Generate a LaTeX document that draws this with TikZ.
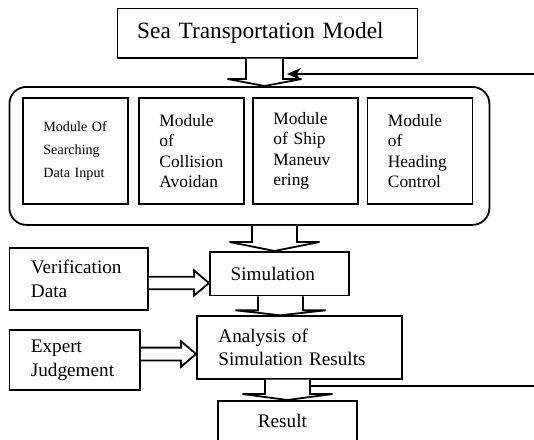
\documentclass[tikz,border=0pt]{standalone}
\usepackage{fontspec}
\setmainfont{Liberation Serif}
\usetikzlibrary{calc,arrows.meta}
\tikzset{
    box/.style={
        rectangle, draw, line width=0.9pt,
        anchor=north west, align=left,
        inner xsep=10.75pt, inner ysep=0pt,
        font=\fontsize{9.6}{11.8}\selectfont
    },
    modbox/.style={
        box, minimum width=52.5pt, minimum height=53pt,
        inner xsep=10.25pt, text width=32pt,
        font=\fontsize{8.7}{10.2}\selectfont
    },
    frame/.style={
        rectangle, draw, line width=0.9pt, rounded corners=8.5pt,
        anchor=north west
    },
    hollow/.style={draw, line width=0.9pt, fill=white, line join=miter},
    fback/.style={-{Stealth[length=7pt,width=6pt]}, line width=0.9pt},
}
% hollow arrow pointing down: [head length] x, half shaft, from, to
\newcommand{\fatdown}[5][7]{%
    \draw[hollow] ({#2-#3},0 |- #4.south)
        -- ($({#2-#3},0 |- #5.north)+(0,-#1)$) -- ++({-#3},0)
        -- (#2,0 |- #5.north)
        -- ($({#2+2*#3},0 |- #5.north)+(0,-#1)$) -- ++({-#3},0)
        -- ({#2+#3},0 |- #4.south);
}
% hollow arrow pointing right: y, half shaft, from, to
\newcommand{\fatright}[4]{%
    \draw[hollow] (#3.east |- 0,{#1-#2})
        -- ($(#4.west |- 0,{#1-#2})+(-15,0)$) -- ++(0,{-#2})
        -- (#4.west |- 0,#1)
        -- ($(#4.west |- 0,{#1+2*#2})+(-15,0)$) -- ++(0,{-#2})
        -- (#3.east |- 0,{#1+#2});
}

\begin{document}
\begin{tikzpicture}[x=0.5pt, y=-0.5pt]

    \useasboundingbox (0,0) rectangle (534,439);
    \clip (0,0) rectangle (534,439);

    % Model
    \node[box, minimum width=150pt, minimum height=24.7pt,
          inner xsep=9.9pt, text width=130.2pt,
          font=\fontsize{11.65}{13.5}\selectfont] (sea) at (116.5,7.5)
        {Sea Transportation Model};

    % Modules
    \node[frame, minimum width=240pt, minimum height=69pt] (mods) at (8.5,86) {};

    \node[modbox, font=\fontsize{7.05}{11.5}\selectfont] (search) at (22,97)
        {Module Of\\Searching\\Data Input};
    \node[modbox] (collision) at (138,97)
        {Module\\of\\Collision\\Avoidan};
    \node[modbox] (maneuver) at (252,97)
        {Module\\of Ship\\Maneuv\\ering};
    \node[modbox] (heading) at (366.5,97)
        {Module\\of\\Heading\\Control};

    % Simulation part
    \node[box, minimum width=69.3pt, minimum height=31pt,
          text width=47.8pt] (verif) at (8.5,247)
        {Verification\\Data};
    \node[box, minimum width=69.5pt, minimum height=21.8pt,
          inner xsep=10.4pt, text width=48.7pt] (sim) at (209,251)
        {Simulation};
    \node[box, minimum width=65.25pt, minimum height=30pt,
          text width=43.75pt] (expert) at (8.5,329.3)
        {Expert\\Judgement};
    \node[box, minimum width=102.7pt, minimum height=31.2pt,
          text width=81.2pt] (analysis) at (196,315.3)
        {Analysis of\\Simulation Results};
    \node[box, minimum width=69.3pt, minimum height=20pt,
          inner xsep=19.8pt, text width=29.7pt] (result) at (217.4,400)
        {Result};

    % Hollow arrows
    \fatdown[7]{264.5}{18.5}{sea}{mods}
    \fatdown[9]{274.5}{22.5}{mods}{sim}
    \fatdown[5]{280.5}{22.5}{sim}{analysis}
    \fatdown[6]{287.5}{22.5}{analysis}{result}
    \fatright{283}{6.3}{verif}{sim}
    \fatright{354}{6.4}{expert}{analysis}

    % Feedback loop
    \coordinate (fbout) at (310,386);
    \coordinate (fbin) at (287,74);
    \coordinate (fbcorner) at (560,0);
    \draw[fback] (fbout) -- (fbcorner |- fbout) -- (fbcorner |- fbin) -- (fbin);

\end{tikzpicture}
\end{document}
